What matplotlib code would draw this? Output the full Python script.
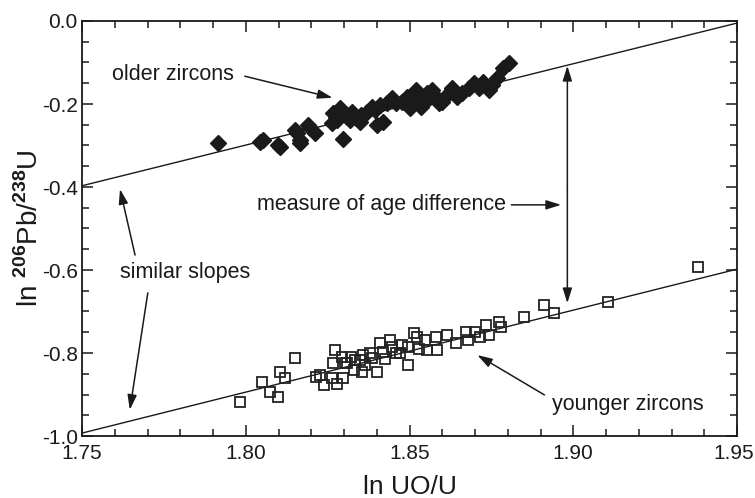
import matplotlib
matplotlib.use("Agg")
import matplotlib.pyplot as plt
import matplotlib.transforms as mtransforms
from matplotlib.ticker import MultipleLocator, FormatStrFormatter

plt.rcParams['font.family'] = ['Liberation Sans', 'DejaVu Sans']
plt.rcParams['mathtext.fontset'] = 'custom'
plt.rcParams['mathtext.rm'] = 'Liberation Sans'
plt.rcParams['mathtext.bf'] = 'Liberation Sans:bold'

# ---- data ----
older_x = [1.7915, 1.8043, 1.8052, 1.8098, 1.8104, 1.8149, 1.8155, 1.8165, 1.8165,
           1.8189, 1.8195, 1.8210, 1.8262, 1.8277, 1.8265, 1.8287, 1.8296, 1.8308,
           1.8317, 1.8338, 1.8348, 1.8296, 1.8369, 1.8387, 1.8409, 1.8430, 1.8402,
           1.8418, 1.8448, 1.8460, 1.8491, 1.8500, 1.8509, 1.8521, 1.8530, 1.8552,
           1.8561, 1.8570, 1.8591, 1.8613, 1.8631, 1.8659, 1.8598, 1.8631, 1.8683,
           1.8698, 1.8723, 1.8744, 1.8753, 1.8768, 1.8784, 1.8805, 1.8323, 1.8352,
           1.8476, 1.8536, 1.8576, 1.8646, 1.8713, 1.8280, 1.8395]
older_y = [-0.294, -0.292, -0.287, -0.299, -0.304, -0.263, -0.270, -0.287, -0.294,
           -0.251, -0.258, -0.270, -0.246, -0.231, -0.222, -0.210, -0.219, -0.231,
           -0.239, -0.234, -0.243, -0.284, -0.219, -0.207, -0.202, -0.198, -0.251,
           -0.243, -0.186, -0.198, -0.183, -0.210, -0.198, -0.166, -0.190, -0.173,
           -0.186, -0.166, -0.198, -0.178, -0.166, -0.173, -0.195, -0.161, -0.161,
           -0.149, -0.147, -0.166, -0.154, -0.137, -0.113, -0.101, -0.219, -0.227,
           -0.196, -0.207, -0.179, -0.183, -0.161, -0.239, -0.214]

younger_x = [1.7982, 1.8049, 1.8073, 1.8098, 1.8104, 1.8119, 1.8149, 1.8216, 1.8226,
             1.8262, 1.8271, 1.8265, 1.8293, 1.8296, 1.8302, 1.8308, 1.8320, 1.8335,
             1.8348, 1.8357, 1.8354, 1.8378, 1.8387, 1.8402, 1.8409, 1.8418, 1.8439,
             1.8448, 1.8460, 1.8476, 1.8494, 1.8494, 1.8515, 1.8524, 1.8546, 1.8552,
             1.8582, 1.8585, 1.8616, 1.8643, 1.8674, 1.8680, 1.8701, 1.8716, 1.8734,
             1.8744, 1.8774, 1.8780, 1.8851, 1.8912, 1.8942, 1.9105, 1.9380, 1.8330,
             1.8365, 1.8425, 1.8470, 1.8530, 1.8280, 1.8240]
younger_y = [-0.918, -0.870, -0.894, -0.906, -0.846, -0.860, -0.812, -0.858, -0.853,
             -0.860, -0.793, -0.824, -0.810, -0.860, -0.824, -0.824, -0.810, -0.817,
             -0.817, -0.805, -0.846, -0.800, -0.812, -0.846, -0.776, -0.798, -0.769,
             -0.786, -0.800, -0.781, -0.786, -0.829, -0.752, -0.761, -0.769, -0.793,
             -0.761, -0.793, -0.757, -0.776, -0.749, -0.769, -0.749, -0.761, -0.733,
             -0.757, -0.725, -0.737, -0.713, -0.684, -0.704, -0.677, -0.593, -0.840,
             -0.828, -0.815, -0.800, -0.790, -0.874, -0.878]

older_line_x = [1.75, 1.95]
older_line_y = [-0.397, -0.005]
younger_line_x = [1.75, 1.95]
younger_line_y = [-0.993, -0.598]

xticks = [1.75, 1.80, 1.85, 1.90, 1.95]
yticks = [0.0, -0.2, -0.4, -0.6, -0.8, -1.0]

# ---- figure ----
W, H = 755, 498
L, R, T, B = 82, 737, 21, 436
fig = plt.figure(figsize=(W/100, H/100), dpi=100)
ax = fig.add_axes([L/W, 1 - B/H, (R-L)/W, (B-T)/H])

ink = '#1a1a1a'
ax.plot(older_line_x, older_line_y, color=ink, lw=1.0, zorder=2)
ax.plot(younger_line_x, younger_line_y, color=ink, lw=1.0, zorder=2)
ax.plot(older_x, older_y, linestyle='none', marker='D', ms=8,
        mfc=ink, mec=ink, zorder=3)
ax.plot(younger_x, younger_y, linestyle='none', marker='s', ms=7.8,
        mfc='none', mec='#222222', mew=1.3, zorder=3)

ax.set_xlim(1.75, 1.95)
ax.set_ylim(-1.0, 0.0)
ax.set_xticks(xticks)
ax.set_yticks(yticks)
ax.xaxis.set_major_formatter(FormatStrFormatter('%.2f'))
ax.yaxis.set_major_formatter(FormatStrFormatter('%.1f'))
ax.xaxis.set_minor_locator(MultipleLocator(0.01))
ax.yaxis.set_minor_locator(MultipleLocator(0.05))
ax.tick_params(which='both', direction='in', top=True, right=True,
               width=1.1, labelsize=15, color=ink, labelcolor=ink)
ax.tick_params(which='major', length=8)
ax.tick_params(which='minor', length=5)
ax.tick_params(axis='y', which='major', pad=3)
ax.tick_params(axis='x', which='major', pad=6)
for s in ax.spines.values():
    s.set_linewidth(1.3)
    s.set_color(ink)

# keep the last x label inside the picture
fig.canvas.draw()
last = ax.get_xticklabels()[-1]
last.set_transform(last.get_transform() +
                   mtransforms.ScaledTranslation(-3/100, 0, fig.dpi_scale_trans))

ax.set_xlabel('ln UO/U', fontsize=19, color=ink)
ax.xaxis.set_label_coords(0.5, -0.095)
ax.set_ylabel(r'ln $^{\mathbf{206}}$Pb/$^{\mathbf{238}}$U', fontsize=20, color=ink)
ax.yaxis.set_label_coords(-0.058, 0.5)

arrow = dict(arrowstyle='-|>,head_length=0.9,head_width=0.28', color=ink,
             lw=1.1, shrinkA=0, shrinkB=0)
fs = 15.5
ax.text(1.7591, -0.130, 'older zircons', fontsize=fs, va='center', ha='left', color=ink)
ax.annotate('', xy=(1.8265, -0.185), xytext=(1.7997, -0.133), arrowprops=arrow)

ax.text(1.8034, -0.443, 'measure of age difference', fontsize=fs, va='center', ha='left', color=ink)
ax.annotate('', xy=(1.8963, -0.443), xytext=(1.8811, -0.443), arrowprops=arrow)
ax.annotate('', xy=(1.8982, -0.108), xytext=(1.8982, -0.40), arrowprops=arrow)
ax.annotate('', xy=(1.8982, -0.680), xytext=(1.8982, -0.40), arrowprops=arrow)

ax.text(1.7616, -0.607, 'similar slopes', fontsize=fs, va='center', ha='left', color=ink)
ax.annotate('', xy=(1.7616, -0.405), xytext=(1.7662, -0.564), arrowprops=arrow)
ax.annotate('', xy=(1.7646, -0.937), xytext=(1.7701, -0.655), arrowprops=arrow)

ax.text(1.8936, -0.925, 'younger zircons', fontsize=fs, va='center', ha='left', color=ink)
ax.annotate('', xy=(1.8707, -0.805), xytext=(1.8912, -0.901), arrowprops=arrow)

fig.savefig('out.png', dpi=100)
